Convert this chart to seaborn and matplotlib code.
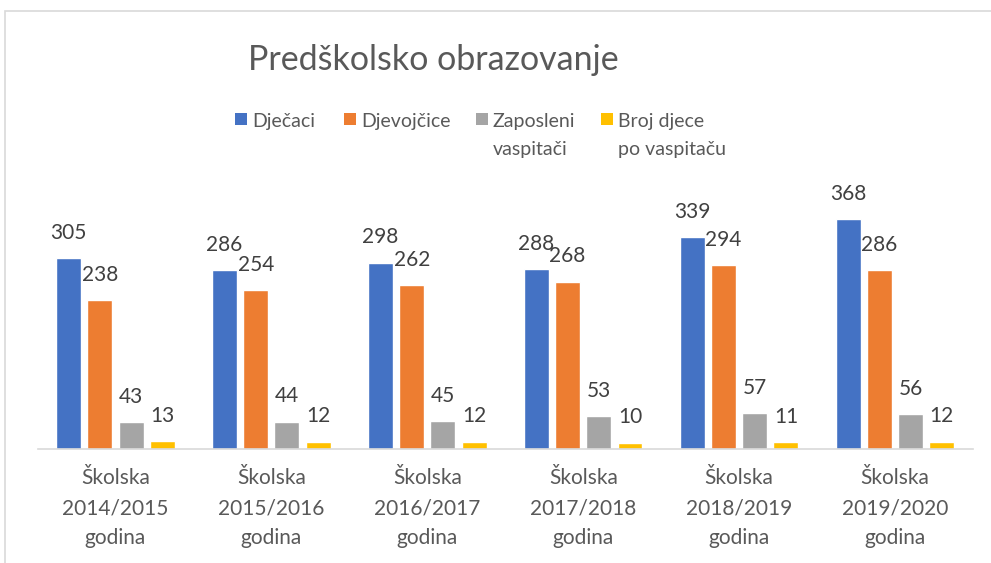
import matplotlib
matplotlib.use("Agg")
import matplotlib.pyplot as plt
import seaborn as sns
import pandas as pd
from matplotlib.patches import Rectangle

periods = ["Školska\n2014/2015\ngodina", "Školska\n2015/2016\ngodina", "Školska\n2016/2017\ngodina",
           "Školska\n2017/2018\ngodina", "Školska\n2018/2019\ngodina", "Školska\n2019/2020\ngodina"]
series = ["Dječaci", "Djevojčice", "Zaposleni\nvaspitači", "Broj djece\npo vaspitaču"]
djecaci = [305, 286, 298, 288, 339, 368]
djevojcice = [238, 254, 262, 268, 294, 286]
zaposleni = [43, 44, 45, 53, 57, 56]
broj_djece = [13, 12, 12, 10, 11, 12]
colors = ["#4472C4", "#ED7D31", "#A5A5A5", "#FFC000"]

rows = []
for s, vals in zip(series, [djecaci, djevojcice, zaposleni, broj_djece]):
    for p, v in zip(periods, vals):
        rows.append({"period": p, "series": s, "value": v})
df = pd.DataFrame(rows)

sns.set_theme(style="white")
plt.rcParams["font.family"] = ["Lato", "DejaVu Sans"]

W, H = 991, 563
fig = plt.figure(figsize=(W / 100, H / 100), dpi=100)
ax = fig.add_axes([37.5 / W, (H - 449) / H, (973 - 37.5) / W, 250 / H])


def fx(px):
    return px / W


def fy(py):
    return 1 - py / H


sns.barplot(data=df, x="period", y="value", hue="series", palette=colors,
            width=0.8, gap=0.2, saturation=1, ax=ax, legend=False)
ax.set_ylim(0, 400)
ax.set_xlim(-0.5, 5.5)
ax.set_xlabel("")
ax.set_ylabel("")
ax.set_yticks([])
for sp in ["top", "right", "left"]:
    ax.spines[sp].set_visible(False)
ax.spines["bottom"].set_color("#D9D9D9")
ax.spines["bottom"].set_linewidth(1.2)
ax.tick_params(axis="x", length=0, pad=14, labelsize=15, labelcolor="#595959")
for t in ax.get_xticklabels():
    t.set_linespacing(1.6)

for c in ax.containers:
    ax.bar_label(c, padding=11, fontsize=15, color="#404040")

# legend (drawn as patches + text to match the original's top-aligned multi-line entries)
marker_x = [235, 344, 476, 601]
text_x = [252, 361.5, 492.5, 618]
for mx, tx, lab, col in zip(marker_x, text_x, series, colors):
    fig.patches.append(Rectangle((fx(mx), fy(125)), 12 / W, 12 / H, transform=fig.transFigure,
                                 facecolor=col, edgecolor="none"))
    for i, line in enumerate(lab.split("\n")):
        fig.text(fx(tx), fy(126.5 + 28.5 * i), line, fontsize=14, color="#595959",
                 ha="left", va="baseline")

fig.text(fx(248), fy(60), "Predškolsko obrazovanje", fontsize=24.5, color="#595959",
         va="center", ha="left")

fig.patches.append(Rectangle((fx(4.5), -0.1), 2, 1.1 - 10.5 / H, transform=fig.transFigure,
                             fill=False, edgecolor="#D9D9D9", linewidth=1.2))

fig.savefig("out.png", dpi=100, facecolor="white")
